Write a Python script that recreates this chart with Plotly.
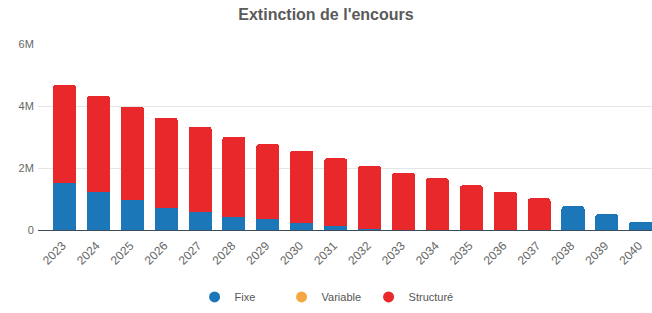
import plotly.graph_objects as go

years = [str(y) for y in range(2023, 2041)]
totals = [4.68, 4.33, 3.98, 3.62, 3.33, 3.01, 2.77, 2.56, 2.31, 2.07, 1.85, 1.67, 1.44, 1.24, 1.02, 0.77, 0.51, 0.27]
fixe = [1.51, 1.24, 0.97, 0.70, 0.59, 0.43, 0.34, 0.24, 0.13, 0.03, 0.0, 0.0, 0.0, 0.0, 0.0, 0.77, 0.51, 0.27]
variable = [0.0] * 18
structure = [round(t - f, 3) for t, f in zip(totals, fixe)]
fixe_v = [v * 1e6 for v in fixe]
variable_v = [v * 1e6 for v in variable]
structure_v = [v * 1e6 for v in structure]

names = ["Fixe", "Variable", "Structuré"]
colors = ["#1c77b9", "#f5a742", "#e8282b"]

fig = go.Figure()
for name, vals, col in zip(names, [fixe_v, variable_v, structure_v], colors):
    fig.add_trace(go.Bar(x=years, y=vals, name=name, marker=dict(color=col, line=dict(width=0)),
                         showlegend=False))
for name, col in zip(names, colors):
    fig.add_trace(go.Scatter(x=[None], y=[None], mode="markers", name=name,
                             marker=dict(color=col, size=11, symbol="circle")))

fig.update_layout(
    width=652, height=313,
    barmode="stack", bargap=0.32, barcornerradius=3,
    margin=dict(l=38, r=0, t=44, b=83, autoexpand=False),
    paper_bgcolor="white", plot_bgcolor="white",
    title=dict(text="<b>Extinction de l'encours</b>", x=0.5, xanchor="center", y=0.955, yanchor="middle",
               font=dict(family="Liberation Sans, Arial", size=16, color="#5a5a5a")),
    font=dict(family="Liberation Sans, Arial", size=11, color="#666666"),
    xaxis=dict(range=[-0.78, 17.33], tickangle=-45, showgrid=False, showline=True,
               linecolor="#3d4a5a", linewidth=1, ticks="", ticklabelshift=-2,
               ticklabelstandoff=3, automargin=False,
               tickfont=dict(size=12, color="#666666")),
    yaxis=dict(range=[0, 6.0e6], tickvals=[0, 2e6, 4e6, 6e6], ticktext=["0", "2M", "4M", "6M"],
               showgrid=True, gridcolor="#e6e6e6", zeroline=False, automargin=False,
               ticks="outside", ticklen=1, tickcolor="rgba(0,0,0,0)",
               tickfont=dict(size=11, color="#666666")),
    legend=dict(orientation="h", x=0.255, xanchor="left", y=-0.36, yanchor="middle",
                traceorder="normal", entrywidth=42,
                font=dict(size=11, color="#555555"), itemsizing="trace"),
)
fig.write_html("out.html", config={"displayModeBar": False},
               post_script="document.body.style.margin='0';")
